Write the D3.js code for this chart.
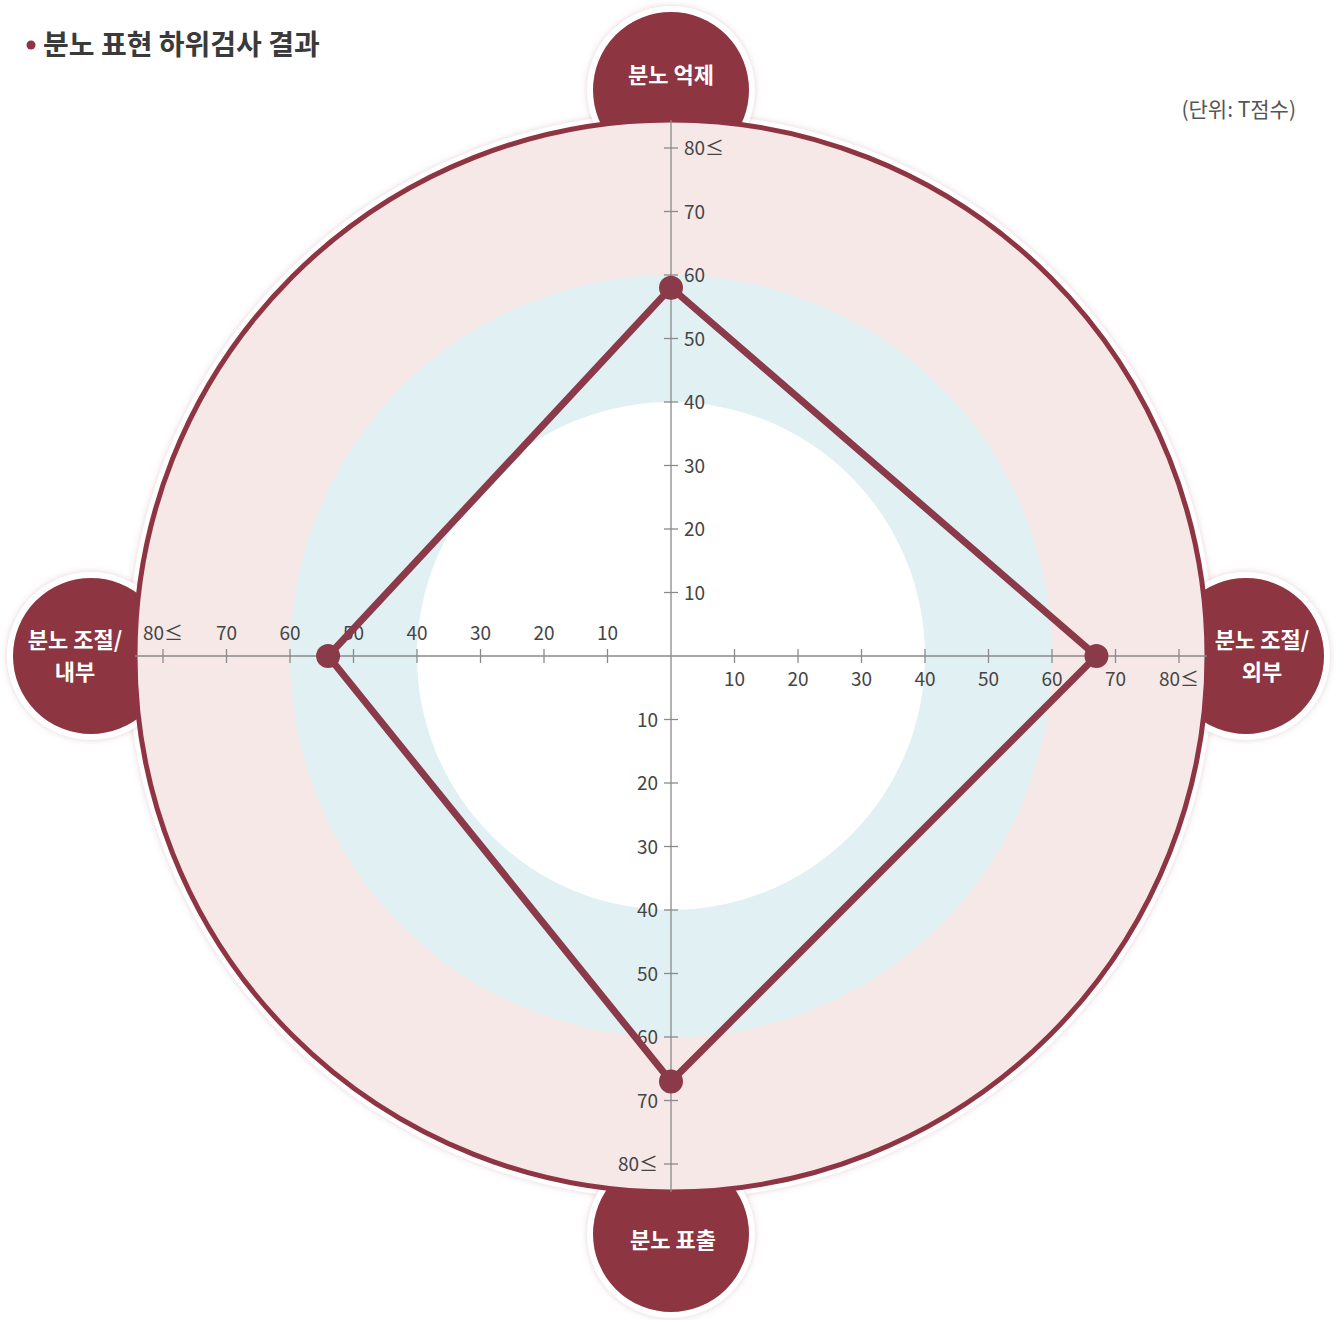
<!DOCTYPE html>
<html><head><meta charset="utf-8">
<script src="https://cdn.jsdelivr.net/npm/d3@7"></script>
<style>body{margin:0;background:#fff}svg{display:block}</style>
</head><body>
<script>
const categories = ["분노 억제", "분노 조절/\n외부", "분노 표출", "분노 조절/\n내부"];
const values = [58, 67, 67, 54];
const tickValues = [10, 20, 30, 40, 50, 60, 70, 80];
const tickLabels = ["10", "20", "30", "40", "50", "60", "70", "80≤"];
const bandLimits = [40, 60];
const title = "분노 표현 하위검사 결과";
const unitLabel = "(단위: T점수)";

const W = 1336, H = 1320, cx = 671, cy = 656;
const FONT = "'Noto Sans CJK KR','Noto Sans',sans-serif";
const DARK = "#8e3442";
const r = d3.scaleLinear().domain([0, 80]).range([0, 508]);
const R = 536;

const svg = d3.select("body").append("svg").attr("width", W).attr("height", H);
const defs = svg.append("defs");
const f = defs.append("filter").attr("id", "sh").attr("x", "-20%").attr("y", "-20%").attr("width", "140%").attr("height", "140%");
f.append("feDropShadow").attr("dx", 0).attr("dy", 0).attr("stdDeviation", 3).attr("flood-color", "#b08088").attr("flood-opacity", 0.35);

// title
svg.append("circle").attr("cx", 31).attr("cy", 45).attr("r", 4.5).attr("fill", DARK);
svg.append("text").attr("x", 43).attr("y", 55).attr("font-family", FONT).attr("font-weight", 700)
  .attr("font-size", 28).attr("fill", "#3a3a3a").text(title);
svg.append("text").attr("x", 1296).attr("y", 117).attr("text-anchor", "end").attr("font-family", FONT)
  .attr("font-size", 21).attr("fill", "#555").text(unitLabel);

const dirs = [
  {dx: 0, dy: -1, dist: 566, tx: 0, ty: -15},
  {dx: 1, dy: 0, dist: 575, tx: 16, ty: 0},
  {dx: 0, dy: 1, dist: 578, tx: 2, ty: 6},
  {dx: -1, dy: 0, dist: 580, tx: -16, ty: 0}
];

// main circle halo
svg.append("circle").attr("cx", cx).attr("cy", cy).attr("r", R + 3).attr("fill", "#fff")
  .attr("stroke", "#fff").attr("stroke-width", 8).attr("filter", "url(#sh)");

// label circles
categories.forEach((c, i) => {
  const d = dirs[i];
  svg.append("circle").attr("cx", cx + d.dx * d.dist).attr("cy", cy + d.dy * d.dist).attr("r", 81)
    .attr("fill", DARK).attr("stroke", "#fff").attr("stroke-width", 6).attr("filter", "url(#sh)");
});

// main circle
svg.append("circle").attr("cx", cx).attr("cy", cy).attr("r", R).attr("fill", "#f5e8e7")
  .attr("stroke", DARK).attr("stroke-width", 5);
svg.append("circle").attr("cx", cx).attr("cy", cy).attr("r", r(bandLimits[1])).attr("fill", "#e1f0f2");
svg.append("circle").attr("cx", cx).attr("cy", cy).attr("r", r(bandLimits[0])).attr("fill", "#ffffff");

// label texts (one text element per line)
categories.forEach((c, i) => {
  const d = dirs[i];
  const x = cx + d.dx * d.dist + d.tx, y = cy + d.dy * d.dist + d.ty;
  const lines = c.split("\n");
  lines.forEach((ln, k) => {
    svg.append("text").attr("text-anchor", "middle").attr("font-family", FONT)
      .attr("font-weight", 700).attr("font-size", 22).attr("fill", "#fff")
      .attr("x", x).attr("y", y + (k - (lines.length - 1) / 2) * 32 + 8).text(ln);
  });
});

// axes
const ax = svg.append("g").attr("stroke", "#8a8a8a").attr("stroke-width", 1.3);
ax.append("line").attr("x1", cx).attr("x2", cx).attr("y1", cy - R).attr("y2", cy + R);
ax.append("line").attr("x1", cx - R).attr("x2", cx + R).attr("y1", cy).attr("y2", cy);
const tl = svg.append("g").attr("font-family", FONT).attr("font-size", 19).attr("fill", "#454545");
tickValues.forEach((v, i) => {
  const p = r(v);
  ax.append("line").attr("x1", cx - 7).attr("x2", cx + 7).attr("y1", cy - p).attr("y2", cy - p);
  ax.append("line").attr("x1", cx - 7).attr("x2", cx + 7).attr("y1", cy + p).attr("y2", cy + p);
  ax.append("line").attr("x1", cx + p).attr("x2", cx + p).attr("y1", cy - 7).attr("y2", cy + 7);
  ax.append("line").attr("x1", cx - p).attr("x2", cx - p).attr("y1", cy - 7).attr("y2", cy + 7);
  tl.append("text").attr("x", cx + 13).attr("y", cy - p + 7).text(tickLabels[i]);
  tl.append("text").attr("x", cx - 13).attr("y", cy + p + 7).attr("text-anchor", "end").text(tickLabels[i]);
  tl.append("text").attr("x", cx + p).attr("y", cy + 30).attr("text-anchor", "middle").text(tickLabels[i]);
  tl.append("text").attr("x", cx - p).attr("y", cy - 16).attr("text-anchor", "middle").text(tickLabels[i]);
});

// polygon
const pts = values.map((v, i) => [cx + dirs[i].dx * r(v), cy + dirs[i].dy * r(v)]);
svg.append("path").attr("d", d3.line().curve(d3.curveLinearClosed)(pts))
  .attr("fill", "none").attr("stroke", "#8b3a4a").attr("stroke-width", 7).attr("stroke-linejoin", "miter");
svg.selectAll(".pt").data(pts).join("circle").attr("cx", d => d[0]).attr("cy", d => d[1])
  .attr("r", 12).attr("fill", "#8b3a4a");
</script>
</body></html>
